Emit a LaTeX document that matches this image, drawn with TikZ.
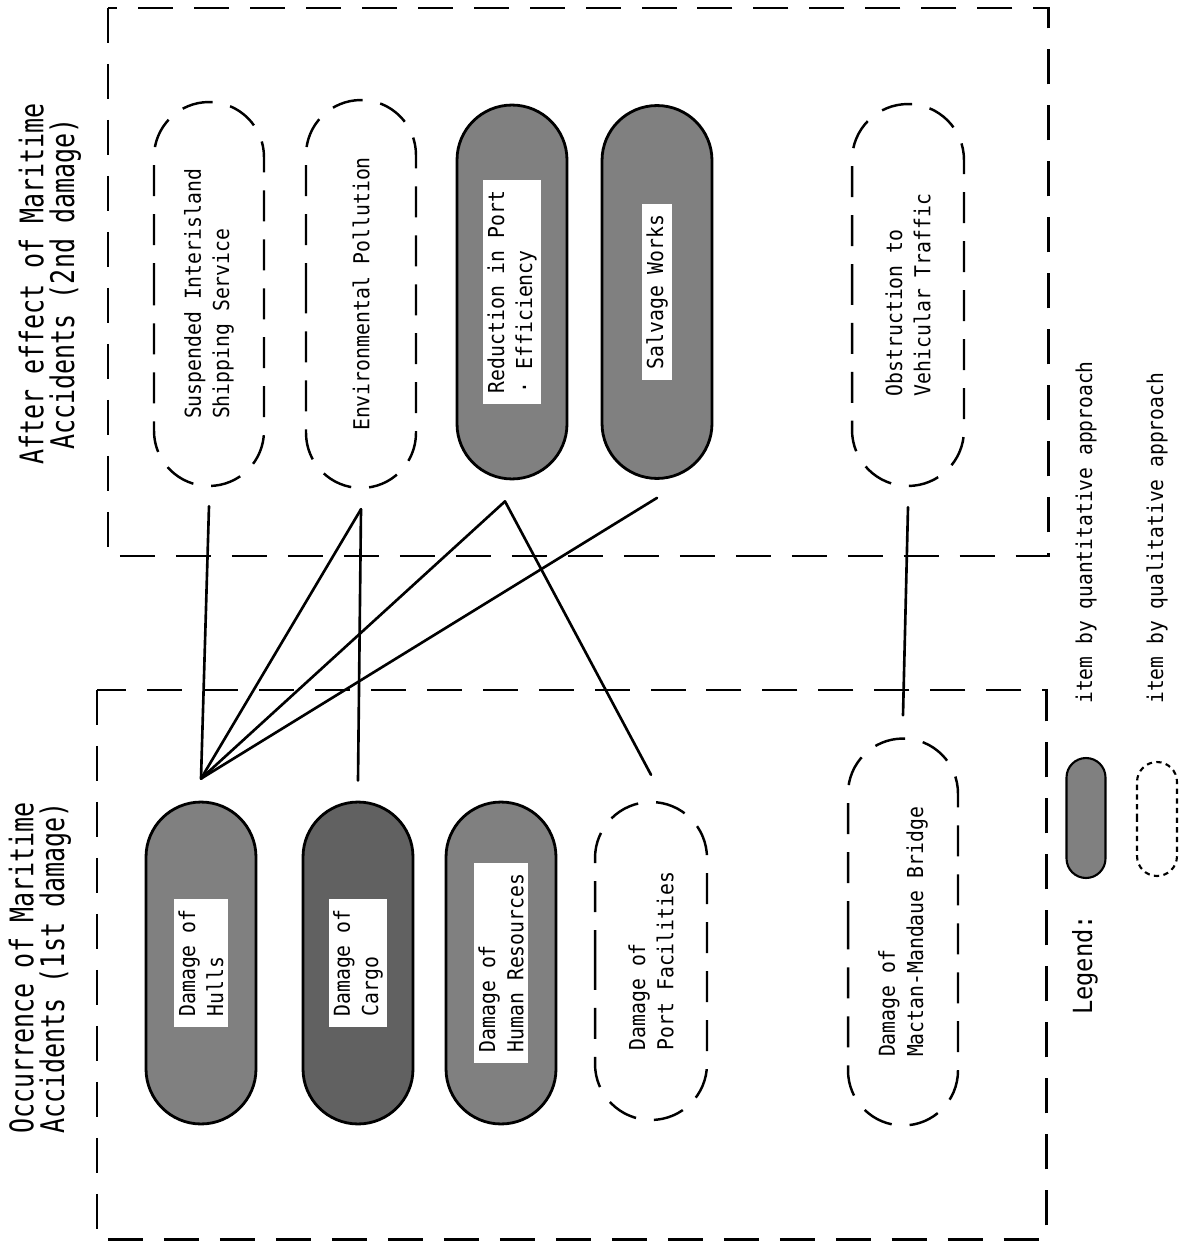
\documentclass[tikz,border=0pt]{standalone}
\usepackage{fontspec}
\newfontfamily\grouphead[FakeStretch=0.77]{DejaVu Sans Mono}
\newfontfamily\pillfont[FakeStretch=0.9]{DejaVu Sans Mono}
\usetikzlibrary{shapes.misc}

\begin{document}
\begin{tikzpicture}[
  x=0.02cm, y=-0.02cm,
  groupbox/.style={draw=black, line width=1.7pt, dash pattern=on 0.7cm off 0.42cm},
  grouptitle/.style={rotate=90, align=center, inner sep=0pt,
              font=\grouphead\fontsize{18.5pt}{17.5pt}\selectfont},
  pill/.style={rounded rectangle, rotate=90, minimum height=2.2cm, inner sep=0pt},
  qnpill/.style={pill, draw=black, line width=1.6pt, fill=black!50},
  qlpill/.style={pill, draw=black, line width=1.4pt, dash pattern=on 0.62cm off 0.36cm,
              align=left, font=\pillfont\fontsize{12.5pt}{16pt}\selectfont},
  qntext/.style={rotate=90, fill=white, align=left, inner xsep=6pt, inner ysep=2.5pt,
              font=\pillfont\fontsize{12.5pt}{16pt}\selectfont},
  legtext/.style={rotate=90, inner sep=0pt, font=\pillfont\fontsize{12.4pt}{15pt}\selectfont},
  link/.style={line width=1.5pt, line cap=round}
]
\useasboundingbox (0,0) rectangle (1182,1243);

\draw[groupbox] (108,8) rectangle (1048,556);
\draw[groupbox] (97,690) rectangle (1046,1239);

\node[grouptitle] (aftertitle) at (50,284) {After effect of Maritime\\Accidents (2nd damage)};
\node[grouptitle] (occtitle) at (40,968) {Occurrence of Maritime\\Accidents (1st damage)};

\node[qlpill, minimum width=7.68cm] (sus) at (209,294) {Suspended Interisland\\Shipping Service};
\node[qlpill, minimum width=7.76cm] (env) at (361,294) {Environmental Pollution};
\node[qnpill, minimum width=7.48cm] (red) at (512,292) {};
\node[qntext] (red-t) at (red) {Reduction in Port\\\textperiodcentered\ Efficiency};
\node[qnpill, minimum width=7.46cm] (salv) at (657,292) {};
\node[qntext] (salv-t) at (salv) {Salvage Works};
\node[qlpill, minimum width=7.64cm, minimum height=2.24cm] (obs) at (908,295) {Obstruction to\\Vehicular Traffic};

\node[qnpill, minimum width=6.44cm] (hulls) at (201,963) {};
\node[qntext] (hulls-t) at (hulls) {Damage of\\Hulls};
\node[qnpill, minimum width=6.44cm, fill=black!62] (cargo) at (358,963) {};
\node[qntext] (cargo-t) at (cargo) {Damage of\\Cargo};
\node[qnpill, minimum width=6.44cm] (human) at (501,963) {};
\node[qntext] (human-t) at (human) {Damage of\\Human Resources};
\node[qlpill, minimum width=6.36cm, minimum height=2.24cm] (port) at (651,961) {Damage of\\Port Facilities};
\node[qlpill, minimum width=7.74cm] (bridge) at (903,932) {Damage of\\Mactan-Mandaue Bridge};

\coordinate (sus-out) at ([yshift=-0.38cm]sus.west);
\coordinate (env-out) at ([yshift=-0.4cm]env.west);
\coordinate (red-out) at ([xshift=-0.14cm, yshift=-0.42cm]red.west);
\coordinate (salv-out) at ([yshift=-0.36cm]salv.west);
\coordinate (obs-out) at ([yshift=-0.4cm]obs.west);
\coordinate (hulls-in) at ([yshift=0.44cm]hulls.east);
\coordinate (cargo-in) at ([yshift=0.4cm]cargo.east);
\coordinate (port-in) at ([yshift=0.52cm]port.east);
\coordinate (bridge-in) at ([yshift=0.44cm]bridge.east);

\draw[link] (sus-out) -- (hulls-in);
\draw[link] (env-out) -- (hulls-in);
\draw[link] (env-out) -- (cargo-in);
\draw[link] (red-out) -- (hulls-in);
\draw[link] (red-out) -- (port-in);
\draw[link] (salv-out) -- (hulls-in);
\draw[link] (obs-out) -- (bridge-in);

\node[legtext, font=\pillfont\fontsize{15pt}{18pt}\selectfont] (legend) at (1085,965) {Legend:};
\node[qnpill, minimum width=2.4cm, minimum height=0.78cm, line width=1.2pt] (legqn) at (1086,818) {};
\node[pill, draw=black, line width=1.2pt, dash pattern=on 3pt off 2.5pt,
      minimum width=2.28cm, minimum height=0.8cm] (legql) at (1157,819) {};
\node[legtext, anchor=west] (legqn-t) at (1086,704) {item by quantitative approach};
\node[legtext, anchor=west] (legql-t) at (1157,704) {item by qualitative approach};
\end{tikzpicture}
\end{document}
